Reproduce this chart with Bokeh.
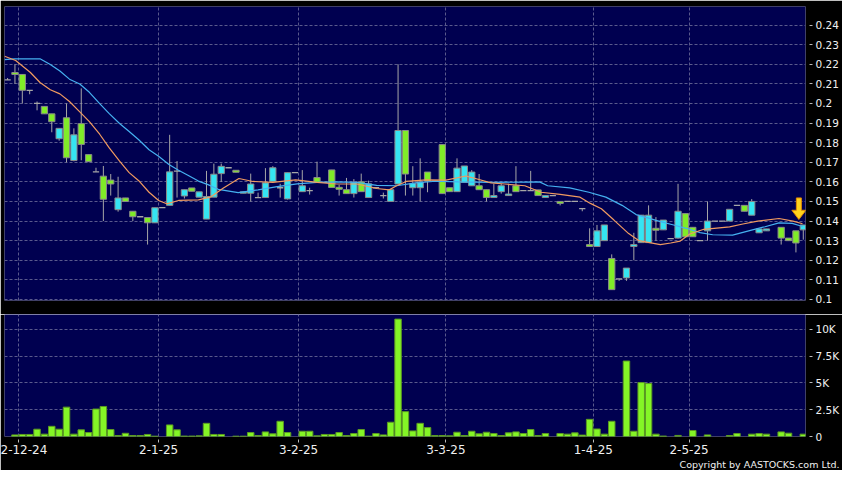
import numpy as np
from bokeh.plotting import figure
from bokeh.layouts import column
from bokeh.models import Range1d, FixedTicker, Title
from bokeh.embed import file_html
from bokeh.resources import INLINE

# ---------------- data (one entry per trading slot) ----------------
opens = [0.212, 0.2158, 0.2148, 0.2067, 0.200, 0.1985, 0.1947, 0.182, 0.1927, 0.1709,
         0.1897, 0.1739, 0.1651, 0.1629, 0.1609, 0.1458, 0.1518, 0.145, 0.1422, 0.1418,
         0.1391, 0.1468, 0.148, 0.1655, 0.1528, 0.1569, 0.1522, 0.141, 0.1522, 0.1642,
         0.1672, 0.1659, 0.1542, 0.1542, 0.152, 0.152, 0.1602, 0.157, 0.1513, 0.1647,
         0.155, 0.1555, 0.1622, 0.1597, 0.1661, 0.1572, 0.156, 0.154, 0.160, 0.152,
         0.157, 0.153, 0.150, 0.1589, 0.1862, 0.157, 0.157, 0.165, 0.1604, 0.179,
         0.157, 0.155, 0.1597, 0.158, 0.158, 0.156, 0.152, 0.155, 0.153, 0.158,
         0.1555, 0.1555, 0.1559, 0.152, 0.153, 0.150, 0.150, 0.150, 0.1463, 0.128,
         0.127, 0.130, 0.1209, 0.1105, 0.111, 0.127, 0.129, 0.129, 0.1363, 0.1355,
         0.131, 0.1313, 0.1438, 0.1368, 0.130, 0.135, 0.140, 0.140, 0.140, 0.148,
         0.148, 0.143, 0.134, 0.135, float("nan"), 0.1368, 0.1313, 0.135, 0.1355]
highs = [0.213, 0.220, 0.2148, 0.2067, 0.201, 0.1985, 0.1947, 0.1873, 0.200, 0.1873,
         0.2077, 0.1739, 0.1672, 0.1681, 0.164, 0.1626, 0.1518, 0.145, 0.1422, 0.1418,
         0.1468, 0.1468, 0.184, 0.1706, 0.156, 0.1569, 0.1549, 0.1656, 0.1693, 0.1693,
         0.1672, 0.1659, 0.1549, 0.1642, 0.1545, 0.167, 0.168, 0.159, 0.1647, 0.1647,
         0.166, 0.157, 0.1703, 0.1597, 0.1661, 0.1585, 0.162, 0.1614, 0.1642, 0.1606,
         0.157, 0.1545, 0.156, 0.220, 0.1862, 0.168, 0.172, 0.165, 0.1604, 0.179,
         0.157, 0.172, 0.1681, 0.166, 0.164, 0.156, 0.159, 0.159, 0.159, 0.168,
         0.1555, 0.1656, 0.1559, 0.153, 0.153, 0.150, 0.150, 0.150, 0.1463, 0.1363,
         0.138, 0.138, 0.123, 0.1105, 0.116, 0.134, 0.143, 0.148, 0.142, 0.1405,
         0.131, 0.159, 0.1438, 0.1368, 0.130, 0.150, 0.140, 0.140, 0.146, 0.148,
         0.148, 0.1512, 0.136, 0.136, float("nan"), 0.1368, 0.1313, 0.135, 0.138]
lows = [0.212, 0.210, 0.200, 0.2047, 0.1965, 0.1947, 0.1853, 0.181, 0.170, 0.1705,
        0.171, 0.1703, 0.1651, 0.140, 0.153, 0.1448, 0.150, 0.140, 0.1422, 0.128,
        0.1391, 0.1468, 0.148, 0.152, 0.1515, 0.1552, 0.1522, 0.141, 0.1522, 0.160,
        0.1672, 0.1649, 0.1542, 0.150, 0.152, 0.152, 0.1602, 0.152, 0.151, 0.1647,
        0.155, 0.1535, 0.1597, 0.1597, 0.1571, 0.153, 0.154, 0.152, 0.155, 0.152,
        0.157, 0.1515, 0.150, 0.1589, 0.153, 0.153, 0.150, 0.1547, 0.1604, 0.154,
        0.155, 0.155, 0.1597, 0.158, 0.156, 0.150, 0.152, 0.154, 0.153, 0.155,
        0.1555, 0.1555, 0.153, 0.152, 0.153, 0.148, 0.150, 0.150, 0.145, 0.127,
        0.127, 0.130, 0.105, 0.1095, 0.1095, 0.120, 0.129, 0.129, 0.130, 0.1355,
        0.131, 0.131, 0.132, 0.132, 0.130, 0.130, 0.140, 0.140, 0.140, 0.148,
        0.145, 0.143, 0.134, 0.135, float("nan"), 0.128, 0.130, 0.124, 0.1305]
closes = [0.212, 0.2148, 0.2067, 0.2067, 0.200, 0.1947, 0.1907, 0.1873, 0.1723, 0.184,
          0.1791, 0.1703, 0.1651, 0.1511, 0.1589, 0.1518, 0.150, 0.1422, 0.1422, 0.1391,
          0.1468, 0.1468, 0.1651, 0.1655, 0.156, 0.1552, 0.1549, 0.1525, 0.1639, 0.1679,
          0.1672, 0.1649, 0.1549, 0.1589, 0.152, 0.1595, 0.1672, 0.157, 0.1647, 0.1647,
          0.158, 0.1555, 0.1597, 0.1597, 0.1571, 0.1562, 0.154, 0.1597, 0.155, 0.159,
          0.157, 0.153, 0.156, 0.1862, 0.164, 0.1592, 0.160, 0.1604, 0.1604, 0.154,
          0.155, 0.167, 0.1681, 0.165, 0.156, 0.152, 0.153, 0.158, 0.1538, 0.155,
          0.1555, 0.1555, 0.153, 0.153, 0.153, 0.149, 0.150, 0.150, 0.1463, 0.127,
          0.135, 0.138, 0.105, 0.1105, 0.116, 0.128, 0.143, 0.143, 0.1353, 0.1405,
          0.131, 0.145, 0.132, 0.132, 0.130, 0.140, 0.140, 0.140, 0.146, 0.148,
          0.145, 0.150, 0.136, 0.136, float("nan"), 0.1313, 0.130, 0.1288, 0.138]
volumes = [0, 150, 190, 190, 680, 220, 950, 680, 2740, 220,
           620, 370, 2560, 2800, 650, 90, 300, 90, 90, 190,
           30, 0, 1080, 620, 40, 40, 60, 1230, 190, 190,
           0, 30, 30, 370, 90, 430, 250, 1420, 370, 0,
           490, 490, 60, 190, 190, 370, 90, 280, 650, 30,
           280, 150, 1330, 10950, 2320, 520, 1230, 830, 90, 90,
           60, 400, 90, 490, 250, 400, 280, 90, 340, 430,
           280, 650, 90, 280, 0, 280, 220, 340, 130, 1600,
           700, 220, 1420, 0, 7040, 490, 5030, 4940, 220, 40,
           0, 100, 0, 560, 0, 150, 0, 0, 90, 280,
           0, 220, 280, 220, 0, 430, 310, 0, 220]

# moving averages (position in trading slots, price)
ma10_pos = [-0.4, 1.1, 3.1, 4.4, 5.8, 7.1, 8.4, 9.8, 11.1, 12.5, 13.8, 15.2, 16.5, 17.8,
            19.2, 20.5, 21.6, 23.2, 25.9, 27.5, 29.3, 31.4, 33.3, 36.0, 39.1, 42.0, 44.7,
            47.4, 50.1, 51.8, 52.8, 54.1, 56.8, 59.5, 62.2, 63.5, 65.6, 67.5, 70.2, 72.4,
            75.0, 77.7, 79.1, 80.6, 82.3, 84.3, 85.7, 87.3, 88.6, 90.0, 91.3, 92.6, 94.5,
            98.0, 99.8, 101.8, 104.7, 106.6, 107.9]
ma10 = [0.2241, 0.2219, 0.2158, 0.2107, 0.2070, 0.2049, 0.2010, 0.1957, 0.1907, 0.1843,
        0.1773, 0.1706, 0.1647, 0.1606, 0.1547, 0.1505, 0.1488, 0.1505, 0.1508, 0.1522,
        0.1569, 0.1617, 0.1602, 0.1597, 0.1610, 0.1597, 0.1589, 0.1589, 0.1566, 0.1559,
        0.1580, 0.1602, 0.1610, 0.1609, 0.1630, 0.1617, 0.1595, 0.1589, 0.1580, 0.1547,
        0.1536, 0.1522, 0.1490, 0.1463, 0.1405, 0.1336, 0.1300, 0.1289, 0.1280, 0.1288,
        0.1298, 0.1334, 0.1358, 0.1370, 0.1385, 0.1400, 0.1413, 0.1400, 0.1386]
ma20_pos = [-0.4, 0.9, 4.4, 5.8, 7.1, 8.4, 9.8, 11.1, 12.5, 13.8, 15.2, 16.5, 17.8, 19.2,
            20.5, 21.9, 23.2, 24.6, 25.9, 27.2, 28.6, 31.3, 34.0, 36.6, 39.3, 42.0, 44.7,
            47.4, 50.1, 52.8, 55.4, 58.1, 61.2, 65.8, 72.2, 73.3, 76.3, 78.9, 81.2, 83.4,
            85.3, 87.0, 88.6, 90.4, 92.1, 94.0, 95.7, 98.4, 101.1, 102.8, 104.7, 106.5, 107.9]
ma20 = [0.2224, 0.2228, 0.2228, 0.2199, 0.2166, 0.2124, 0.2099, 0.2057, 0.1999, 0.1948,
        0.1898, 0.1857, 0.1815, 0.1764, 0.1731, 0.1689, 0.1659, 0.1631, 0.1604, 0.1586,
        0.1562, 0.1545, 0.1559, 0.1576, 0.1590, 0.1597, 0.1600, 0.1597, 0.1582, 0.1580,
        0.1595, 0.1603, 0.1600, 0.1597, 0.1600, 0.1580, 0.1569, 0.1547, 0.1522, 0.1480,
        0.1433, 0.1415, 0.1397, 0.1380, 0.1363, 0.1341, 0.1330, 0.1328, 0.1355, 0.1371,
        0.1391, 0.1388, 0.1372]

date_ticks = [1.5, 20.5, 39.5, 59.5, 79.5, 92.5]
date_labels = ["2-12-24", "2-1-25", "3-2-25", "3-3-25", "1-4-25", "2-5-25"]
price_ticks = [0.10, 0.11, 0.12, 0.13, 0.14, 0.15, 0.16, 0.17, 0.18, 0.19, 0.20,
               0.21, 0.22, 0.23, 0.24]
price_labels = ["0.1", "0.11", "0.12", "0.13", "0.14", "0.15", "0.16", "0.17", "0.18",
                "0.19", "0.2", "0.21", "0.22", "0.23", "0.24"]
vol_ticks = [0, 2500, 5000, 7500, 10000]
vol_labels = ["0", "2.5K", "5K", "7.5K", "10K"]
copyright_text = "Copyright by AASTOCKS.com Ltd."

# ---------------- styling ----------------
NAVY = "#000050"
GRID = "#5a5a8c"
CYAN = "#35e4f2"
GREEN = "#80ec28"
EDGE = "#8a8a8a"
WICK = "#a6a6a6"
VGREEN = "#84f526"
VEDGE = "#5c9a22"
ORANGE = "#f09a60"
BLUE = "#45b0f0"
TXT = "#f0f0f0"
FONT = "DejaVu Sans"

o = np.array(opens, float)
h = np.array(highs, float)
l = np.array(lows, float)
c = np.array(closes, float)
vol = np.array(volumes, float)
idx = np.arange(len(o), dtype=float)
valid = ~np.isnan(o)
up = valid & (c > o)
dn = valid & (c < o)
flat = valid & (c == o)
hasw = valid & (h > l)
BW = 0.85

XR = Range1d(-0.418, 108.30)

def style_axis(ax, ticks, labels, size):
    ax.ticker = FixedTicker(ticks=ticks)
    ax.major_label_overrides = dict(zip(ticks, labels))
    ax.axis_line_color = None
    ax.minor_tick_line_color = None
    ax.major_tick_line_color = "#bbbbbb"
    ax.major_label_text_color = TXT
    ax.major_label_text_font = FONT
    ax.major_label_text_font_size = size

# ---------------- price panel ----------------
p = figure(width=842, height=314, x_range=XR, y_range=Range1d(0.099457, 0.249481),
           output_backend="svg", toolbar_location=None,
           x_axis_location=None, y_axis_location="right",
           min_border_left=4, min_border_right=36, min_border_top=6, min_border_bottom=14,
           background_fill_color=NAVY, border_fill_color="black", outline_line_color=None)
p.xgrid.ticker = FixedTicker(ticks=date_ticks)
p.ygrid.ticker = FixedTicker(ticks=price_ticks)
for g in p.grid:
    g.grid_line_color = GRID
    g.grid_line_dash = "3 2"
    g.grid_line_width = 1
style_axis(p.yaxis[0], price_ticks, price_labels, "10.5px")
p.yaxis.major_tick_in = -4
p.yaxis.major_tick_out = 7
p.yaxis.major_label_standoff = 3

p.segment(x0=idx[hasw], y0=l[hasw], x1=idx[hasw], y1=h[hasw], line_color=WICK, line_width=1)
p.segment(x0=idx[flat] - BW / 2, y0=c[flat], x1=idx[flat] + BW / 2, y1=c[flat],
          line_color=WICK, line_width=1.3)
p.vbar(x=idx[up], width=BW, top=c[up], bottom=o[up], fill_color=CYAN,
       line_color=EDGE, line_width=1)
p.vbar(x=idx[dn], width=BW, top=o[dn], bottom=c[dn], fill_color=GREEN,
       line_color=EDGE, line_width=1)
p.line(ma20_pos, ma20, line_color=BLUE, line_width=1.2)
p.line(ma10_pos, ma10, line_color=ORANGE, line_width=1.2)

# marker arrow above the latest candle
last = int(np.where(valid)[0][-1])
ax0 = idx[last] - 0.6
tip = h[last] + 0.0028
base = tip + 0.0047
top = tip + 0.0110
arrow_x = [ax0 - 0.34, ax0 + 0.34, ax0 + 0.34, ax0 + 0.95, ax0, ax0 - 0.95, ax0 - 0.34]
arrow_y = [top, top, base, base, tip, base, base]
p.patch(arrow_x, arrow_y, fill_color="#ffd21c", line_color="#e08a00", line_width=1)

# ---------------- volume panel ----------------
v = figure(width=842, height=156, x_range=XR, y_range=Range1d(0, 11380),
           output_backend="svg", toolbar_location=None,
           x_axis_location="below", y_axis_location="right",
           min_border_left=4, min_border_right=36, min_border_top=0, min_border_bottom=34,
           background_fill_color=NAVY, border_fill_color="black", outline_line_color=None)
v.xgrid.ticker = FixedTicker(ticks=date_ticks)
v.ygrid.ticker = FixedTicker(ticks=vol_ticks)
for g in v.grid:
    g.grid_line_color = GRID
    g.grid_line_dash = "3 2"
    g.grid_line_width = 1
style_axis(v.yaxis[0], vol_ticks, vol_labels, "10.5px")
v.yaxis.major_tick_in = -4
v.yaxis.major_tick_out = 7
v.yaxis.major_label_standoff = 3
style_axis(v.xaxis[0], date_ticks, date_labels, "12px")
v.xaxis.major_tick_in = -3
v.xaxis.major_tick_out = 6
v.xaxis.major_label_standoff = 2

has_v = vol > 0
v.vbar(x=idx[has_v], width=0.88, top=vol[has_v], bottom=0, fill_color=VGREEN,
       line_color=VEDGE, line_width=1)

v.add_layout(Title(text=copyright_text, align="right", offset=-34, standoff=0,
                   text_color=TXT, text_font=FONT, text_font_size="9.5px",
                   text_font_style="normal"), "below")

layout = column(p, v, spacing=0)
open("out.html", "w").write(file_html(layout, INLINE))
